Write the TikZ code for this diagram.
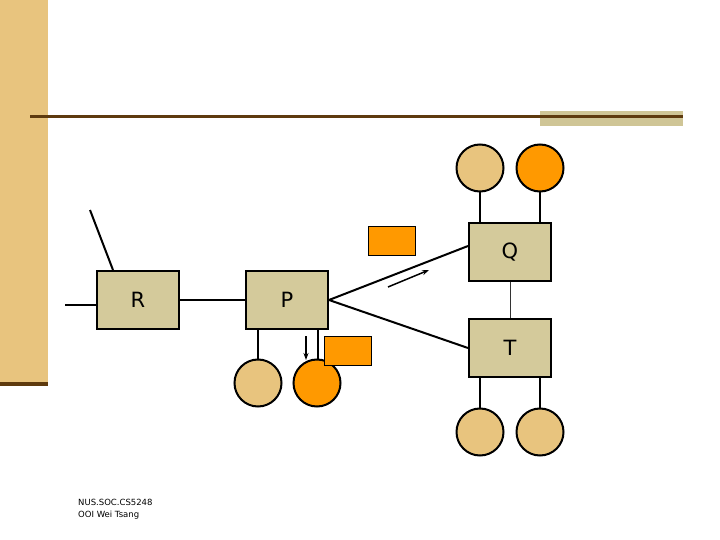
\documentclass[tikz,border=0pt]{standalone}
\usepackage{fontspec}
\setmainfont{DejaVu Sans}
\usetikzlibrary{arrows.meta}
\definecolor{slidetan}{HTML}{E8C47E}
\definecolor{slidebrown}{HTML}{5E3A0E}
\definecolor{slidekhaki}{HTML}{CFC596}
\definecolor{boxtan}{HTML}{D4CA9B}
\definecolor{nodeorange}{HTML}{FF9900}
\tikzset{
  hostbox/.style={draw=black, line width=2pt, fill=boxtan, minimum width=82pt, minimum height=58pt, inner sep=0pt, font=\fontsize{21}{25}\selectfont},
  member/.style={circle, draw=black, line width=2pt, fill=slidetan, minimum size=47pt, inner sep=0pt},
  memberorange/.style={member, fill=nodeorange},
  packet/.style={draw=black, line width=1.5pt, fill=nodeorange, minimum width=47pt, minimum height=29pt, inner sep=0pt},
  link/.style={black, line width=2pt},
  thinlink/.style={black!80, line width=0.9pt},
  flow/.style={black, line width=1.5pt, -{Stealth[length=7pt,width=5pt]}}
}
\begin{document}
\begin{tikzpicture}[x=1pt, y=-1pt]
  \useasboundingbox (0,0) rectangle (720,540);
  % slide frame
  \fill[slidetan] (0,0) rectangle (48,382);
  \fill[slidebrown] (0,382) rectangle (48,386);
  \fill[slidekhaki] (540,111) rectangle (683,126);
  \draw[slidebrown, line width=3pt] (30,117) -- (683,117);
  % hosts
  \node[hostbox] (R) at (138,300) {R};
  \node[hostbox] (P) at (287,300) {P};
  \node[hostbox] (Q) at (510,252) {Q};
  \node[hostbox] (T) at (510,348) {T};
  % receivers
  \node[member] (qa) at (480,168) {};
  \node[memberorange] (qb) at (540,168) {};
  \node[member] (pa) at (258,383) {};
  \node[memberorange] (pb) at (317,383) {};
  \node[member] (ta) at (480,432) {};
  \node[member] (tb) at (540,432) {};
  % links
  \coordinate (rin) at (65,305);
  \coordinate (rup) at (90,210);
  \draw[link] (rin) -- (rin -| R.west);
  \draw[link] (rup) -- ([xshift=17pt]R.north west);
  \draw[link] (R.east) -- (P.west);
  \draw[link] (P.east) -- ([yshift=6pt]Q.west);
  \draw[link] (P.east) -- (T.west);
  \draw[thinlink] (Q.south) -- (T.north);
  \draw[link] (qa.south) -- (qa.south |- Q.north);
  \draw[link] (qb.south) -- (qb.south |- Q.north);
  \draw[link] (ta.north) -- (ta.north |- T.south);
  \draw[link] (tb.north) -- (tb.north |- T.south);
  \draw[link] (pa.north |- P.south) -- (pa.north);
  \draw[link] ([xshift=1pt]pb.north |- P.south) -- ([xshift=1pt]pb.north);
  % packets
  \node[packet] (pk1) at (392,241) {};
  \node[packet] (pk2) at (348,351) {};
  \coordinate (fa) at (388,287);
  \coordinate (fb) at (429,270);
  \coordinate (da) at (306,336);
  \coordinate (db) at (306,360);
  \draw[flow] (fa) -- (fb);
  \draw[flow] (da) -- (db);
  % footer
  \node[anchor=north west, align=left, inner sep=0pt, font=\fontsize{8.5}{12}\selectfont] (credit) at (78,499) {NUS.SOC.CS5248\\OOI Wei Tsang};
\end{tikzpicture}
\end{document}
